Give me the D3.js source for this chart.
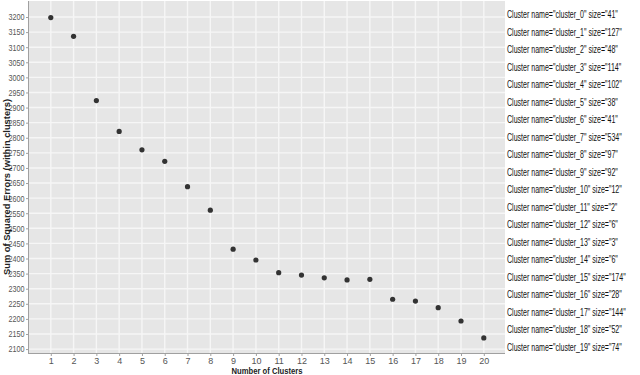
<!DOCTYPE html>
<html><head><meta charset="utf-8">
<script src="https://cdn.jsdelivr.net/npm/d3@7"></script>
<style>
html,body{margin:0;padding:0;background:#fff;}
svg{display:block;}
</style></head>
<body>
<svg id="c" width="640" height="375"></svg>
<script>
const clusters = d3.range(1, 21);
const sse = [3198, 3136, 2923, 2821, 2760, 2722, 2638, 2560, 2431, 2395, 2353, 2345, 2336, 2329, 2331, 2265, 2259, 2237, 2193, 2137];
const yTicks = d3.range(2100, 3201, 50);
const legendNames = d3.range(0, 20).map(i => "cluster_" + i);
const legendSizes = [41, 127, 48, 114, 102, 38, 41, 534, 97, 92, 12, 2, 6, 3, 6, 174, 28, 144, 52, 74];

const FONT = "'Liberation Sans',Arial,sans-serif";
const svg = d3.select("#c");
const L = 28, R = 505, T = 1, B = 353;
const x = d3.scaleLinear().domain([0, 21]).range([L, L + 22.79 * 21]);
const y = d3.scaleLinear().domain([2087, 3253]).range([B, T]);

svg.append("rect").attr("x", L).attr("y", T).attr("width", R - L).attr("height", B - T).attr("fill", "#e6e6e6");

// grid
svg.append("g").selectAll("line").data(yTicks).join("line")
  .attr("x1", L).attr("x2", R).attr("y1", d => y(d)).attr("y2", d => y(d))
  .attr("stroke", "#f6f6f6").attr("stroke-width", 1.4);
svg.append("g").selectAll("line").data(clusters).join("line")
  .attr("y1", T).attr("y2", B).attr("x1", d => x(d)).attr("x2", d => x(d))
  .attr("stroke", "#f6f6f6").attr("stroke-width", 1.4);

// axes
const yAxis = d3.axisLeft(y).tickValues(yTicks).tickFormat(d3.format("d")).tickSize(2).tickPadding(1.5);
const gy = svg.append("g").attr("transform", `translate(${L},0)`).call(yAxis);
const xAxis = d3.axisBottom(x).tickValues(clusters).tickFormat(d3.format("d")).tickSize(3).tickPadding(2);
const gx = svg.append("g").attr("transform", `translate(0,${B})`).call(xAxis);
[gx, gy].forEach(g => {
  g.select(".domain").attr("stroke", "#a0a0a0").attr("stroke-width", 1);
  g.selectAll(".tick line").attr("stroke", "#a0a0a0");
  g.selectAll("text").attr("fill", "#555").style("font-family", FONT).style("font-size", "9px");
});
gx.select(".domain").attr("d", `M${L},0.5H${R}`);
gy.select(".domain").attr("d", `M0.5,${B}V${T}`);
// condense y tick labels horizontally (anchored at right end)
gy.selectAll(".tick text").each(function () {
  const t = d3.select(this);
  const xx = +t.attr("x");
  t.attr("x", null).attr("transform", `translate(${xx},0) scale(0.8,1)`);
});

// points
svg.append("g").selectAll("circle").data(sse).join("circle")
  .attr("cx", (d, i) => x(clusters[i])).attr("cy", d => y(d)).attr("r", 2.6)
  .attr("fill", "#333");

// axis titles
svg.append("text").attr("x", 267).attr("y", 373.5).attr("text-anchor", "middle")
  .attr("textLength", 71).attr("lengthAdjust", "spacingAndGlyphs")
  .style("font-family", FONT).style("font-size", "9px").style("font-weight", "bold")
  .attr("fill", "#222").text("Number of Clusters");
svg.append("text").attr("transform", "translate(9.5,187) rotate(-90)").attr("text-anchor", "middle")
  .attr("textLength", 176).attr("lengthAdjust", "spacingAndGlyphs")
  .style("font-family", FONT).style("font-size", "9.5px").style("font-weight", "bold")
  .attr("fill", "#222").text("Sum of Squared Errors (within clusters)");

// legend
const lg = svg.append("g");
lg.append("rect").attr("x", R).attr("y", 0).attr("width", 640 - R).attr("height", 375).attr("fill", "#fff");
const lt = lg.selectAll("text").data(legendNames).join("text")
  .attr("transform", (d, i) => `translate(507,${18 + i * 17.5}) scale(0.74,1)`)
  .style("font-family", FONT).style("font-size", "11.5px")
  .attr("fill", "#111")
  .text((d, i) => `Cluster name="${d}" size="${legendSizes[i]}"`);
const w0 = lt.node().getComputedTextLength();
const k = 111 / w0;
lt.attr("transform", (d, i) => `translate(507,${18 + i * 17.5}) scale(${k},1)`);
</script>
</body></html>
